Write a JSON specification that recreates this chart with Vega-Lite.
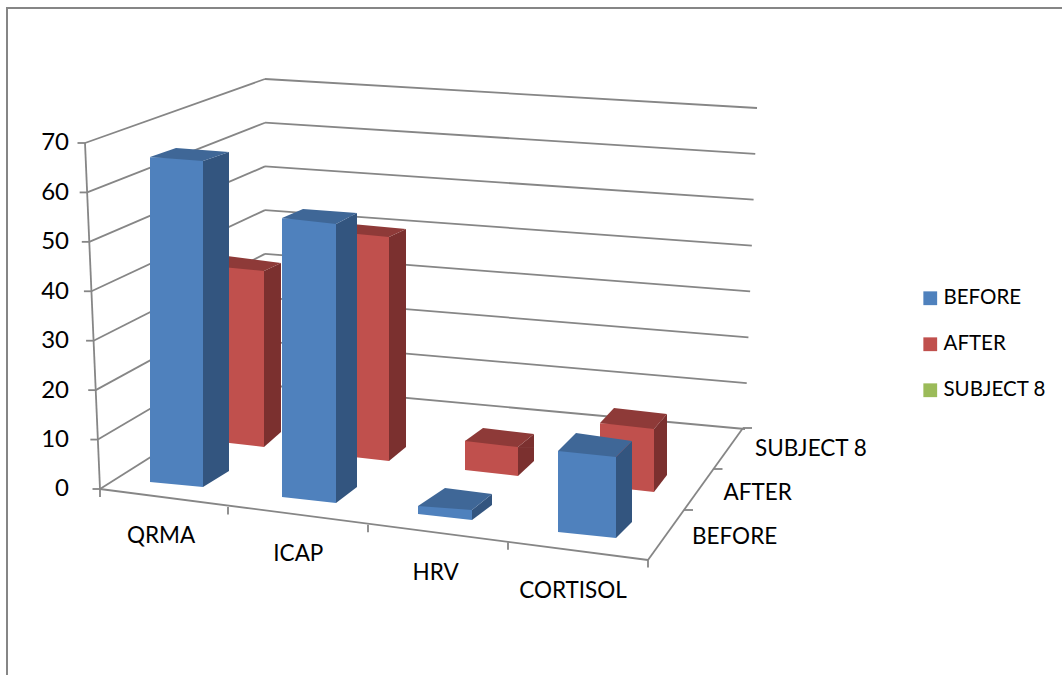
{
"$schema":"https://vega.github.io/schema/vega-lite/v6.json",
"autosize":"none","width":1059,"height":671,
"padding":{"left":7,"top":8,"right":-4,"bottom":-4},
"background":"white",
"view":{"stroke":"#868686","strokeWidth":2},
"config":{"font":"Lato","legend":{"orient":"none","legendX":913,"legendY":280,"title":null,"symbolType":"square","symbolSize":190,"labelFontSize":20.5,"labelColor":"#000000","rowPadding":25,"labelOffset":3,"symbolStrokeWidth":0}},
"datasets":{
"bars":[
{"category":"QRMA","series":"BEFORE","value":65.7},
{"category":"ICAP","series":"BEFORE","value":56.4},
{"category":"HRV","series":"BEFORE","value":1.6},
{"category":"CORTISOL","series":"BEFORE","value":16.4},
{"category":"QRMA","series":"AFTER","value":35.4},
{"category":"ICAP","series":"AFTER","value":45.1},
{"category":"HRV","series":"AFTER","value":5.9},
{"category":"CORTISOL","series":"AFTER","value":12.7}],
"ticks":[{"tick":0},{"tick":10},{"tick":20},{"tick":30},{"tick":40},{"tick":50},{"tick":60},{"tick":70}],
"categories":[{"category":"QRMA"},{"category":"ICAP"},{"category":"HRV"},{"category":"CORTISOL"}],
"depth":[{"series":"BEFORE"},{"series":"AFTER"},{"series":"SUBJECT 8"}]
},
"layer":[
{"data":{"name":"ticks"},"mark":{"type":"rule","color":"#868686","strokeWidth":1.8},
 "encoding":{
  "x":{"datum":0,"type":"quantitative","scale":{"domain":[0,1],"range":[93,258]},"axis":null},
  "x2":{"datum":1},
  "xOffset":{"field":"tick","type":"quantitative","scale":{"domain":[0,70],"range":[0,-15]}},
  "y":{"field":"tick","type":"ordinal","sort":"ascending","scale":{"type":"point","padding":0,"domain":[0,10,20,30,40,50,60,70],"range":[377,71]},"axis":null},
  "y2":{"field":"tick"},
  "yOffset":{"field":"tick","type":"quantitative","scale":{"domain":[0,70],"range":[104,64]}}
 }},
{"data":{"name":"ticks"},"mark":{"type":"rule","color":"#868686","strokeWidth":1.8},
 "encoding":{
  "x":{"datum":1,"type":"quantitative","scale":{"domain":[0,1],"range":[258,738]},"axis":null},
  "x2":{"datum":0},
  "xOffset":{"field":"tick","type":"quantitative","scale":{"domain":[0,70],"range":[0,12]}},
  "y":{"field":"tick","type":"ordinal","sort":"ascending","scale":{"type":"point","padding":0,"domain":[0,10,20,30,40,50,60,70],"range":[377,71]},"axis":null},
  "y2":{"field":"tick"},
  "yOffset":{"field":"tick","type":"quantitative","scale":{"domain":[0,70],"range":[44,29]}}
 }},
{"data":{"values":[{"a":1}]},"mark":{"type":"rule","color":"#868686","strokeWidth":1.8},
 "encoding":{
  "x":{"datum":70,"type":"quantitative","scale":{"domain":[0,70],"range":[93,78]},"axis":null},
  "x2":{"datum":0},
  "y":{"datum":70,"type":"quantitative","scale":{"domain":[-38.44,97.31],"nice":false,"zero":false},"axis":null},
  "y2":{"datum":0}
 }},
{"data":{"name":"ticks"},"mark":{"type":"point","filled":false,"stroke":"#868686","strokeWidth":1.8,"size":4,"opacity":1,"shape":"M-7.5,0L0,0"},
 "encoding":{
  "x":{"datum":0,"type":"quantitative","scale":{"domain":[0,1],"range":[93,94]},"axis":null},
  "xOffset":{"field":"tick","type":"quantitative","scale":{"domain":[0,70],"range":[0,-15]}},
  "y":{"field":"tick","type":"quantitative","scale":{"domain":[-38.44,97.31],"nice":false,"zero":false},"axis":null}
 }},
{"data":{"values":[{"a":1}]},"mark":{"type":"rule","color":"#868686","strokeWidth":1.8,"y2Offset":71},
 "encoding":{
  "x":{"datum":0,"type":"quantitative","scale":{"domain":[0,1],"range":[93,641]},"axis":null},
  "x2":{"datum":1},
  "y":{"datum":0,"type":"quantitative","scale":{"domain":[-38.44,97.31],"nice":false,"zero":false},"axis":null},
  "y2":{"datum":0}
 }},
{"data":{"values":[{"a":1}]},"mark":{"type":"rule","color":"#868686","strokeWidth":1.8,"y2Offset":8},
 "encoding":{
  "x":{"datum":0,"type":"quantitative","scale":{"domain":[0,1],"range":[93,94]},"axis":null},
  "y":{"datum":0,"type":"quantitative","scale":{"domain":[-38.44,97.31],"nice":false,"zero":false},"axis":null},
  "y2":{"datum":0}
 }},
{"data":{"values":[{"a":1}]},"mark":{"type":"rule","color":"#868686","strokeWidth":1.8,"yOffset":71,"y2Offset":-61},
 "encoding":{
  "x":{"datum":0,"type":"quantitative","scale":{"domain":[0,1],"range":[641,736]},"axis":null},
  "x2":{"datum":1},
  "y":{"datum":0,"type":"quantitative","scale":{"domain":[-38.44,97.31],"nice":false,"zero":false},"axis":null},
  "y2":{"datum":0}
 }},
{"data":{"name":"categories"},"mark":{"type":"point","filled":false,"stroke":"#868686","strokeWidth":1.8,"size":4,"opacity":1,"shape":"M0,0L0,7.5"},
 "encoding":{
  "x":{"field":"category","type":"nominal","sort":null,"scale":{"type":"point","padding":0,"domain":["QRMA","ICAP","HRV","CORTISOL"],"range":[221,641]},"axis":null},
  "y":{"datum":0,"type":"quantitative","scale":{"domain":[-38.44,97.31],"nice":false,"zero":false},"axis":null},
  "yOffset":{"field":"category","type":"nominal","scale":{"type":"point","padding":0,"domain":["QRMA","ICAP","HRV","CORTISOL"],"range":[18,71]}}
 }},
{"data":{"name":"depth"},"mark":{"type":"point","filled":false,"stroke":"#868686","strokeWidth":1.8,"size":4,"opacity":1,"shape":"M0,0L9,0"},
 "encoding":{
  "x":{"field":"series","type":"nominal","scale":{"type":"point","padding":0,"domain":["BEFORE","AFTER","SUBJECT 8"],"range":[677,736]},"axis":null},
  "y":{"datum":0,"type":"quantitative","scale":{"domain":[-38.44,97.31],"nice":false,"zero":false},"axis":null},
  "yOffset":{"field":"series","type":"nominal","scale":{"type":"point","padding":0,"domain":["BEFORE","AFTER","SUBJECT 8"],"range":[21,-61]}}
 }},
{"data":{"name":"bars"},
 "transform":[{"filter":"datum.series==='AFTER'"}],
 "encoding":{
  "x":{"field":"category","type":"nominal","sort":null,"scale":{"domain":["QRMA","ICAP","HRV","CORTISOL"],"range":[166,686],"paddingInner":0,"paddingOuter":0},"axis":null},
  "y":{"field":"value","type":"quantitative","scale":{"domain":[-38.44,97.31],"nice":false,"zero":false},"axis":null}
 },
 "layer":[
  {"transform":[{"filter":"datum.category==='QRMA'"}],"mark":{"type":"bar","color":"#7B302F","width":17,"xOffset":34.5,"yOffset":-43,"y2Offset":-57},"encoding":{"y2":{"datum":0}}},
  {"transform":[{"filter":"datum.category==='ICAP'"}],"mark":{"type":"bar","color":"#7B302F","width":17,"xOffset":29.5,"yOffset":-29.1,"y2Offset":-42},"encoding":{"y2":{"datum":0}}},
  {"transform":[{"filter":"datum.category==='HRV'"}],"mark":{"type":"bar","color":"#7B302F","width":16,"xOffset":28,"yOffset":-12.8,"y2Offset":-28},"encoding":{"y2":{"datum":0}}},
  {"transform":[{"filter":"datum.category==='CORTISOL'"}],"mark":{"type":"bar","color":"#7B302F","width":13,"xOffset":32.5,"yOffset":2.8,"y2Offset":-14},"encoding":{"y2":{"datum":0}}},
  {"transform":[{"filter":"datum.category==='QRMA'"}],"mark":{"type":"bar","width":52,"xOffset":0,"yOffset":-48,"y2Offset":-48},"encoding":{"y2":{"datum":0},"color":{"field":"series","type":"nominal","scale":{"domain":["BEFORE","AFTER","SUBJECT 8"],"range":["#4F81BD","#C0504D","#9BBB59"]}}}},
  {"transform":[{"filter":"datum.category==='ICAP'"}],"mark":{"type":"bar","width":53,"xOffset":-5.5,"yOffset":-34,"y2Offset":-34},"encoding":{"y2":{"datum":0},"color":{"field":"series","type":"nominal"}}},
  {"transform":[{"filter":"datum.category==='HRV'"}],"mark":{"type":"bar","width":53,"xOffset":-6.5,"yOffset":-19,"y2Offset":-19},"encoding":{"y2":{"datum":0},"color":{"field":"series","type":"nominal"}}},
  {"transform":[{"filter":"datum.category==='CORTISOL'"}],"mark":{"type":"bar","width":54,"xOffset":-1,"yOffset":-3,"y2Offset":-3},"encoding":{"y2":{"datum":0},"color":{"field":"series","type":"nominal"}}},
  {"mark":{"type":"point","filled":true,"fill":"#7B302F","size":4,"opacity":1,"strokeWidth":0},
   "encoding":{"shape":{"field":"category","type":"nominal","legend":null,"scale":{"domain":["QRMA","ICAP","HRV","CORTISOL"],"range":["M26,-43L43,-51L43,-43Z","M21,-29.1L38,-37.1L38,-29.1Z","M20,-12.8L36,-25.8L36,-12.8Z","M26,2.8L39,-12.2L39,2.8Z"]}}}},
  {"mark":{"type":"point","filled":true,"fill":"#8E3A38","size":4,"opacity":1,"strokeWidth":0},
   "encoding":{"shape":{"field":"category","type":"nominal","legend":null,"scale":{"domain":["QRMA","ICAP","HRV","CORTISOL"],"range":["M-26,-48L26,-43L43,-51L-11,-58Z","M-32,-34.1L21,-29.1L38,-37.1L-16,-42.1Z","M-33,-18.8L20,-12.8L36,-25.8L-15,-31.8Z","M-28,-3.2L26,2.8L39,-12.2L-14,-18.2Z"]}}}},
  {"mark":{"type":"point","filled":true,"fill":"#7B302F","size":4,"opacity":1,"strokeWidth":0},
   "encoding":{"y":{"datum":0,"type":"quantitative"},"shape":{"field":"category","type":"nominal","legend":null,"scale":{"domain":["QRMA","ICAP","HRV","CORTISOL"],"range":["M26,-57L43,-57L26,-42Z","M21,-42L38,-42L21,-28Z","M20,-28L36,-28L20,-13Z","M26,-14L39,-14L26,3Z"]}}}},
  {"mark":{"type":"point","filled":true,"fill":"#C0504D","size":4,"opacity":1,"strokeWidth":0},
   "encoding":{"y":{"datum":0,"type":"quantitative"},"shape":{"field":"category","type":"nominal","legend":null,"scale":{"domain":["QRMA","ICAP","HRV","CORTISOL"],"range":["M-26,-48L26,-42L26,-48Z","M-32,-34L21,-28L21,-34Z","M-33,-19L20,-13L20,-19Z","M-28,-3L26,3L26,-3Z"]}}}}
 ],
 "resolve":{"scale":{"shape":"independent"}}
},
{"data":{"name":"bars"},
 "transform":[{"filter":"datum.series==='BEFORE'"}],
 "encoding":{
  "x":{"field":"category","type":"nominal","sort":null,"scale":{"domain":["QRMA","ICAP","HRV","CORTISOL"],"range":[96.5,648.5],"paddingInner":0,"paddingOuter":0},"axis":null},
  "y":{"field":"value","type":"quantitative","scale":{"domain":[-38.44,97.31],"nice":false,"zero":false},
   "axis":{"values":[0,10,20,30,40,50,60,70],"title":null,"grid":false,"domain":false,"ticks":false,"offset":-85.5,"labelPadding":24,"labelFontSize":24,"labelColor":"#000000",
    "encoding":{"labels":{"x":{"signal":"(35-datum.value)*0.157-25"}}}}}
 },
 "layer":[
  {"transform":[{"filter":"datum.category==='QRMA'"}],"mark":{"type":"bar","color":"#33557F","width":26,"xOffset":43.5,"yOffset":-3.2,"y2Offset":-18},"encoding":{"y2":{"datum":0}}},
  {"transform":[{"filter":"datum.category==='ICAP'"}],"mark":{"type":"bar","color":"#33557F","width":21,"xOffset":36,"yOffset":13.8,"y2Offset":-2},"encoding":{"y2":{"datum":0}}},
  {"transform":[{"filter":"datum.category==='CORTISOL'"}],"mark":{"type":"bar","color":"#33557F","width":16,"xOffset":37.5,"yOffset":49.1,"y2Offset":33},"encoding":{"y2":{"datum":0}}},
  {"transform":[{"filter":"datum.category==='QRMA'"}],"mark":{"type":"bar","width":53,"xOffset":4,"yOffset":-7,"y2Offset":-7},"encoding":{"y2":{"datum":0},"color":{"field":"series","type":"nominal"}}},
  {"transform":[{"filter":"datum.category==='ICAP'"}],"mark":{"type":"bar","width":54,"xOffset":-1.5,"yOffset":8,"y2Offset":8},"encoding":{"y2":{"datum":0},"color":{"field":"series","type":"nominal"}}},
  {"transform":[{"filter":"datum.category==='HRV'"}],"mark":{"type":"bar","width":54,"xOffset":-3.5,"yOffset":25,"y2Offset":25},"encoding":{"y2":{"datum":0},"color":{"field":"series","type":"nominal"}}},
  {"transform":[{"filter":"datum.category==='CORTISOL'"}],"mark":{"type":"bar","width":58,"xOffset":0.5,"yOffset":43,"y2Offset":43},"encoding":{"y2":{"datum":0},"color":{"field":"series","type":"nominal"}}},
  {"mark":{"type":"point","filled":true,"fill":"#33557F","size":4,"opacity":1,"strokeWidth":0},
   "encoding":{"shape":{"field":"category","type":"nominal","legend":null,"scale":{"domain":["QRMA","ICAP","HRV","CORTISOL"],"range":["M30.5,-3.2L56.5,-12.2L56.5,-3.2Z","M25.5,13.8L46.5,2.8L46.5,13.8Z","M23.5,28.9L43.5,12.9L43.5,23.9L23.5,38.9Z","M29.5,49.1L45.5,33.1L45.5,49.1Z"]}}}},
  {"mark":{"type":"point","filled":true,"fill":"#3F6797","size":4,"opacity":1,"strokeWidth":0},
   "encoding":{"shape":{"field":"category","type":"nominal","legend":null,"scale":{"domain":["QRMA","ICAP","HRV","CORTISOL"],"range":["M-22.5,-7.2L30.5,-3.2L56.5,-12.2L3.5,-16.2Z","M-28.5,7.8L25.5,13.8L46.5,2.8L-7.5,-1.2Z","M-30.5,24.9L23.5,28.9L43.5,12.9L-3.5,6.9Z","M-28.5,43.1L29.5,49.1L45.5,33.1L-10.5,25.1Z"]}}}},
  {"mark":{"type":"point","filled":true,"fill":"#33557F","size":4,"opacity":1,"strokeWidth":0},
   "encoding":{"y":{"datum":0,"type":"quantitative"},"shape":{"field":"category","type":"nominal","legend":null,"scale":{"domain":["QRMA","ICAP","HRV","CORTISOL"],"range":["M30.5,-18L56.5,-18L30.5,-2Z","M25.5,-2L46.5,-2L25.5,14Z","M0,0Z","M29.5,33L45.5,33L29.5,49Z"]}}}},
  {"mark":{"type":"point","filled":true,"fill":"#4F81BD","size":4,"opacity":1,"strokeWidth":0},
   "encoding":{"y":{"datum":0,"type":"quantitative"},"shape":{"field":"category","type":"nominal","legend":null,"scale":{"domain":["QRMA","ICAP","HRV","CORTISOL"],"range":["M-22.5,-7L30.5,-2L30.5,-7Z","M-28.5,8L25.5,14L25.5,8Z","M-30.5,25L23.5,31L23.5,25Z","M-28.5,43L29.5,49L29.5,43Z"]}}}}
 ],
 "resolve":{"scale":{"shape":"independent"}}
},
{"data":{"name":"categories"},"mark":{"type":"text","fontSize":22.5,"color":"#000000","align":"center","baseline":"middle"},
 "encoding":{
  "text":{"field":"category"},
  "x":{"field":"category","type":"nominal","sort":null,"scale":{"type":"point","padding":0,"domain":["QRMA","ICAP","HRV","CORTISOL"],"range":[154,566]},"axis":null},
  "y":{"field":"category","type":"nominal","sort":null,"scale":{"type":"point","padding":0,"domain":["QRMA","ICAP","HRV","CORTISOL"],"range":[528,583]},"axis":null}
 }},
{"data":{"name":"depth"},"mark":{"type":"text","fontSize":22.5,"color":"#000000","align":"left","baseline":"middle"},
 "encoding":{
  "text":{"field":"series"},
  "x":{"field":"series","type":"nominal","sort":null,"scale":{"type":"point","padding":0,"domain":["BEFORE","AFTER","SUBJECT 8"],"range":[685,748]},"axis":null},
  "y":{"field":"series","type":"nominal","sort":null,"scale":{"type":"point","padding":0,"domain":["BEFORE","AFTER","SUBJECT 8"],"range":[529,441]},"axis":null}
 }}
],
"resolve":{"scale":{"x":"independent","y":"independent","xOffset":"independent","yOffset":"independent","shape":"independent"}}
}
